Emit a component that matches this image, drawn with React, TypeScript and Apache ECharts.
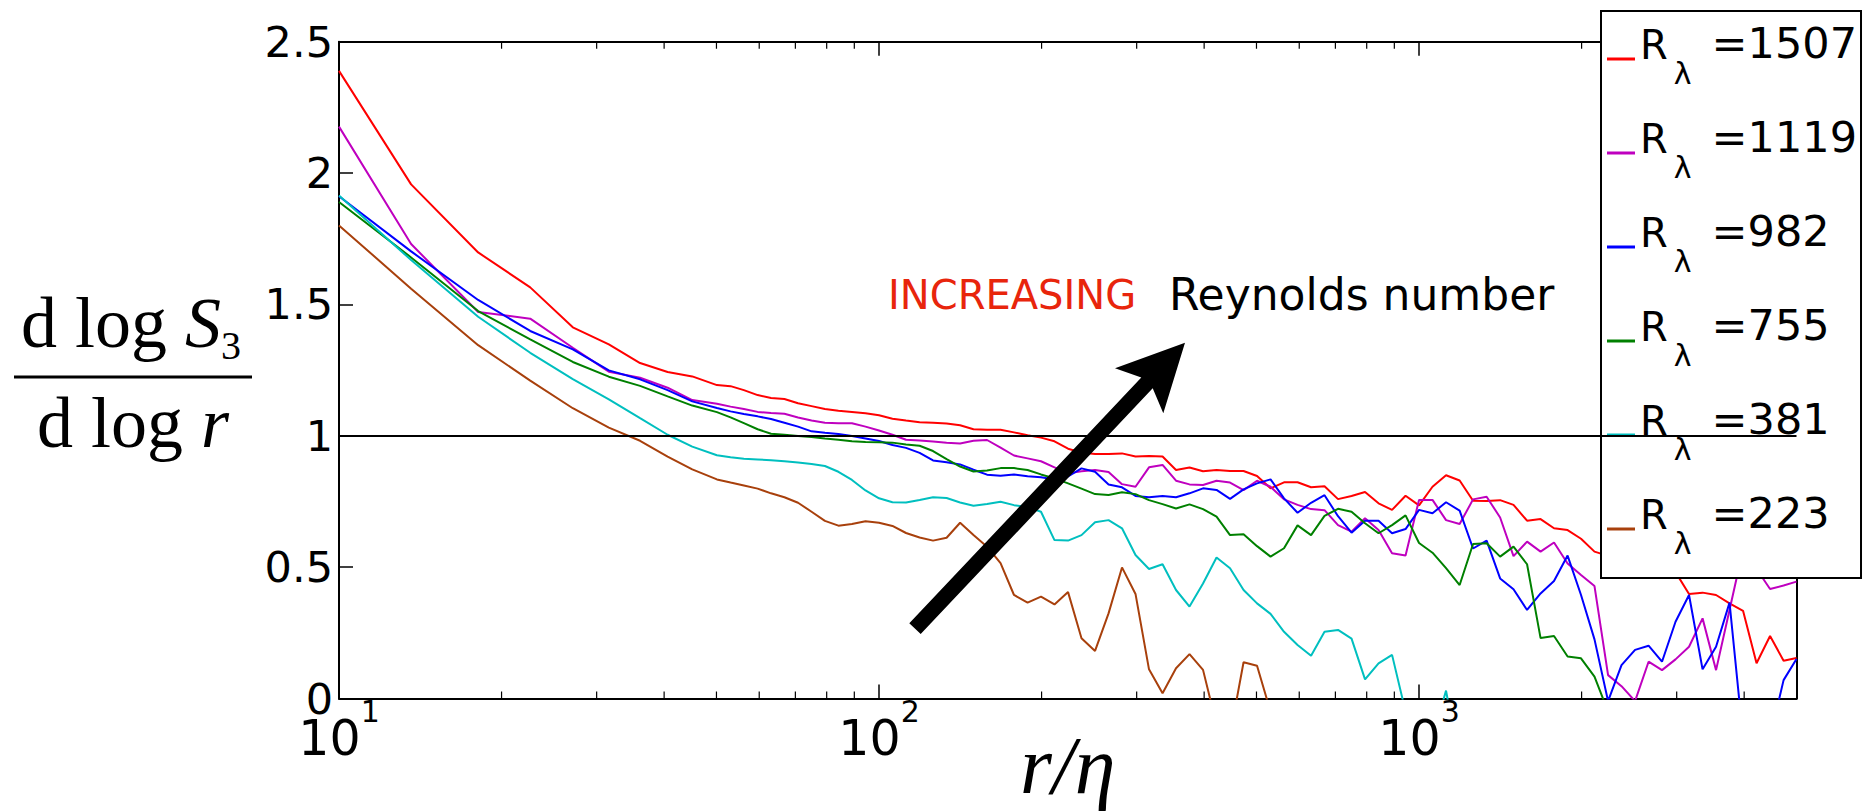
import React, { useEffect, useRef } from "react";
import * as echarts from "echarts";

// r / eta sample positions shared by all curves
const rOverEta = [
  10, 13.6, 18.1, 22.6, 27.1, 31.6, 36.1, 40.6, 45.1, 50.1, 53.1, 56.2, 59.6, 63.1, 66.8, 70.8, 75.0, 79.4, 84.1, 89.1,
  94.4, 100, 105.9, 112.2, 118.9, 125.9, 133.4, 141.3, 149.6, 158.5, 167.9, 177.8, 188.4, 199.5, 211.3, 223.9, 237.1,
  251.2, 266.1, 281.8, 298.5, 316.2, 335.0, 354.8, 375.8, 398.1, 421.7, 446.7, 473.2, 501.2, 530.9, 562.3, 595.7, 631.0,
  668.3, 707.9, 749.9, 794.3, 841.4, 891.3, 944.1, 1000, 1059, 1122, 1189, 1259, 1334, 1413, 1496, 1585, 1679, 1778,
  1884, 1995, 2113, 2239, 2371, 2512, 2661, 2818, 2985, 3162, 3350, 3548, 3758, 3981, 4217, 4467, 4732, 5000,
];

const re1507 = [
  2.389, 1.957, 1.698, 1.565, 1.413, 1.348, 1.277, 1.243, 1.226, 1.193,
  1.189, 1.174, 1.155, 1.144, 1.14, 1.124, 1.113, 1.102, 1.095, 1.091,
  1.086, 1.078, 1.065, 1.058, 1.052, 1.05, 1.047, 1.04, 1.025, 1.023,
  1.023, 1.013, 1.002, 0.993, 0.979, 0.951, 0.936, 0.931, 0.931, 0.933,
  0.921, 0.923, 0.921, 0.87, 0.879, 0.865, 0.87, 0.866, 0.866, 0.847,
  0.8, 0.823, 0.823, 0.804, 0.808, 0.759, 0.771, 0.786, 0.743, 0.718,
  0.772, 0.735, 0.806, 0.85, 0.83, 0.753, 0.752, 0.755, 0.737, 0.677,
  0.683, 0.648, 0.641, 0.608, 0.559, 0.543, 0.533, 0.487, 0.552, 0.6,
  0.481, 0.398, 0.403, 0.394, 0.362, 0.334, 0.134, 0.238, 0.144, 0.154,
];

const re1119 = [
  2.177, 1.73, 1.471, 1.446, 1.335, 1.244, 1.221, 1.183, 1.136, 1.122,
  1.111, 1.102, 1.091, 1.087, 1.084, 1.07, 1.058, 1.05, 1.048, 1.048,
  1.035, 1.02, 1.004, 0.985, 0.982, 0.978, 0.974, 0.971, 0.981, 0.984,
  0.955, 0.925, 0.914, 0.903, 0.88, 0.857, 0.865, 0.87, 0.862, 0.816,
  0.806, 0.88, 0.889, 0.829, 0.815, 0.813, 0.829, 0.822, 0.793, 0.829,
  0.806, 0.758, 0.737, 0.721, 0.717, 0.66, 0.635, 0.686, 0.641, 0.553,
  0.544, 0.756, 0.756, 0.679, 0.664, 0.758, 0.768, 0.689, 0.542, 0.597,
  0.559, 0.594, 0.514, 0.47, 0.428, 0.089, 0.047, -0.01, 0.14, 0.108,
  0.149, 0.197, 0.305, 0.108, 0.337, 0.568, 0.493, 0.417, 0.43, 0.445,
];

const re982 = [
  1.912, 1.702, 1.517, 1.399, 1.329, 1.249, 1.215, 1.174, 1.131, 1.106,
  1.093, 1.083, 1.074, 1.064, 1.05, 1.035, 1.017, 1.012, 1.007, 0.999,
  0.99, 0.98, 0.965, 0.954, 0.935, 0.906, 0.899, 0.891, 0.871, 0.852,
  0.848, 0.853, 0.846, 0.842, 0.834, 0.845, 0.876, 0.863, 0.815, 0.804,
  0.771, 0.766, 0.771, 0.766, 0.781, 0.8, 0.794, 0.76, 0.796, 0.819,
  0.834, 0.762, 0.707, 0.745, 0.774, 0.694, 0.631, 0.677, 0.677, 0.629,
  0.645, 0.718, 0.705, 0.747, 0.715, 0.571, 0.601, 0.457, 0.416, 0.337,
  0.4, 0.447, 0.544, 0.394, 0.225, -0.01, 0.127, 0.185, 0.201, 0.14,
  0.292, 0.394, 0.111, 0.197, 0.365, -0.15, -0.3, -0.15, 0.07, 0.15,
];

const re755 = [
  1.89, 1.679, 1.475, 1.367, 1.281, 1.225, 1.19, 1.15, 1.115, 1.09,
  1.07, 1.048, 1.025, 1.008, 1.004, 0.999, 0.995, 0.99, 0.985, 0.979,
  0.976, 0.975, 0.974, 0.967, 0.962, 0.942, 0.911, 0.883, 0.864, 0.868,
  0.877, 0.877, 0.87, 0.853, 0.838, 0.819, 0.799, 0.778, 0.775, 0.785,
  0.778, 0.755, 0.74, 0.723, 0.739, 0.721, 0.692, 0.622, 0.625, 0.58,
  0.54, 0.572, 0.659, 0.622, 0.695, 0.722, 0.711, 0.667, 0.629, 0.66,
  0.697, 0.592, 0.555, 0.496, 0.432, 0.588, 0.591, 0.54, 0.578, 0.511,
  0.23, 0.238, 0.16, 0.153, 0.083, -0.05, -0.3,
];

const re381 = [
  1.915, 1.669, 1.453, 1.316, 1.216, 1.139, 1.067, 1.004, 0.959, 0.926,
  0.918, 0.913, 0.91, 0.907, 0.903, 0.898, 0.893, 0.885, 0.863, 0.832,
  0.792, 0.762, 0.747, 0.746, 0.756, 0.766, 0.763, 0.746, 0.734, 0.74,
  0.749, 0.736, 0.729, 0.711, 0.603, 0.601, 0.622, 0.671, 0.679, 0.648,
  0.546, 0.493, 0.511, 0.413, 0.35, 0.438, 0.537, 0.496, 0.413, 0.362,
  0.322, 0.254, 0.204, 0.163, 0.254, 0.261, 0.228, 0.073, 0.134, 0.166,
  -0.05, -0.25, -0.15, 0.03, -0.25,
];

const re223 = [
  1.801, 1.56, 1.345, 1.21, 1.105, 1.031, 0.981, 0.921, 0.872, 0.834,
  0.822, 0.811, 0.799, 0.781, 0.766, 0.745, 0.711, 0.676, 0.658, 0.664,
  0.675, 0.669, 0.657, 0.63, 0.613, 0.601, 0.612, 0.669, 0.622, 0.578,
  0.515, 0.394, 0.365, 0.388, 0.358, 0.405, 0.229, 0.181, 0.324, 0.499,
  0.398, 0.111, 0.02, 0.115, 0.169, 0.109, -0.1, -0.14, 0.138, 0.125,
  -0.05, -0.3,
];

const reynolds = [1507, 1119, 982, 755, 381, 223];
const seriesValues = [re1507, re1119, re982, re755, re381, re223];
const colors = ["#ff0000", "#bf00bf", "#0000ff", "#008000", "#00bfbf", "#a8400c"];
const minorTicks = [20, 30, 40, 50, 60, 70, 80, 90, 200, 300, 400, 500, 600, 700, 800, 900, 2000, 3000, 4000];
const yMin = 0;
const yMax = 2.5;
const yStep = 0.5;
const xMin = 10;
const xMax = 5000;
const referenceLevel = 1;

const SANS = "DejaVu Sans";
const SERIF = "Liberation Serif";

function buildOption() {
  const names = reynolds.map((r) => `Rλ=${r}`);

  const lineSeries = seriesValues.map((vals, si) => ({
    name: names[si],
    type: "line",
    data: vals.map((v, i) => [rOverEta[i], v]),
    showSymbol: false,
    symbol: "none",
    color: colors[si],
    lineStyle: { color: colors[si], width: 2 },
    emphasis: { disabled: true },
    z: 2,
    ...(si === 0
      ? {
          markLine: {
            silent: true,
            symbol: "none",
            label: { show: false },
            lineStyle: { color: "#000", width: 2, type: "solid" },
            emphasis: { disabled: true },
            data: [{ yAxis: referenceLevel }],
          },
        }
      : {}),
  }));

  const minorTickSeries = {
    type: "custom",
    silent: true,
    clip: false,
    z: 3,
    data: minorTicks.map((t) => [t, yMin]),
    renderItem: (_params: any, api: any) => {
      const x = api.value(0);
      const b = api.coord([x, yMin]);
      const t = api.coord([x, yMax]);
      const st = { stroke: "#000", lineWidth: 1.2 };
      return {
        type: "group",
        children: [
          { type: "line", shape: { x1: b[0], y1: b[1], x2: b[0], y2: b[1] - 7 }, style: st },
          { type: "line", shape: { x1: t[0], y1: t[1], x2: t[0], y2: t[1] + 7 }, style: st },
        ],
      };
    },
  };

  const axisLine = { show: true, onZero: false, lineStyle: { color: "#000", width: 2 } };
  const axisTick = { show: true, inside: true, length: 14, lineStyle: { color: "#000", width: 1.5 } };

  const isPow10 = (v: number) => Math.abs(Math.log10(v) - Math.round(Math.log10(v))) < 1e-6;

  return {
    animation: false,
    backgroundColor: "#fff",
    grid: { left: 339, right: 70.5, top: 41.75, bottom: 112.5, containLabel: false, outerBoundsMode: "none" },
    xAxis: [
      {
        type: "log",
        logBase: 10,
        min: xMin,
        max: xMax,
        position: "bottom",
        axisLine,
        axisTick,
        splitLine: { show: false },
        minorTick: { show: false },
        name: "r/η",
        nameLocation: "middle",
        nameGap: 26,
        nameMoveOverlap: false,
        nameTextStyle: { fontSize: 82, fontFamily: SERIF, fontStyle: "italic", color: "#000" },
        axisLabel: {
          show: true,
          margin: -6,
          showMinLabel: true,
          showMaxLabel: false,
          formatter: (v: number) => (isPow10(v) ? `{b|10}{s|${Math.round(Math.log10(v))}}` : ""),
          rich: {
            b: { fontSize: 49, fontFamily: SANS, color: "#000", lineHeight: 91 },
            s: { fontSize: 30, fontFamily: SANS, color: "#000", lineHeight: 30, padding: [4, 0, 57, 0] },
          },
        },
      },
      {
        type: "log",
        logBase: 10,
        min: xMin,
        max: xMax,
        position: "top",
        axisLine,
        axisTick,
        axisLabel: { show: false },
        splitLine: { show: false },
      },
    ],
    yAxis: [
      {
        type: "value",
        min: yMin,
        max: yMax,
        interval: yStep,
        position: "left",
        axisLine,
        axisTick,
        splitLine: { show: false },
        axisLabel: { show: true, margin: 6, fontSize: 43, fontFamily: SANS, color: "#000" },
      },
      {
        type: "value",
        min: yMin,
        max: yMax,
        interval: yStep,
        position: "right",
        axisLine,
        axisTick,
        splitLine: { show: false },
        axisLabel: { show: false },
      },
    ],
    legend: {
      orient: "vertical",
      left: 1601,
      top: 11,
      padding: [10, 4, 11, 6],
      itemGap: 18,
      itemWidth: 28,
      itemHeight: 3,
      icon: "rect",
      backgroundColor: "#fff",
      borderColor: "#000",
      borderWidth: 2,
      borderRadius: 0,
      selectedMode: false,
      data: names,
      formatter: (name: string) => `{r|R}{l|λ}{v|=${name.split("=")[1]}}`,
      textStyle: {
        color: "#000",
        fontFamily: SANS,
        rich: {
          r: { fontSize: 40, fontFamily: SANS, color: "#000", lineHeight: 35, padding: [0, 0, 29, 0] },
          l: { fontSize: 30, fontFamily: SANS, color: "#000", lineHeight: 35, padding: [29, 0, 0, 6] },
          v: { fontSize: 43, fontFamily: SANS, color: "#000", lineHeight: 31, padding: [0, 0, 33, 20] },
        },
      },
    },
    graphic: [
      {
        type: "text",
        x: 131,
        y: 322.7,
        z: 100,
        style: {
          text: "{u|d log }{i|S}{s|3}",
          align: "center",
          verticalAlign: "middle",
          fill: "#000",
          rich: {
            u: { fontSize: 72, fontFamily: SERIF, lineHeight: 86, fill: "#000" },
            i: { fontSize: 72, fontFamily: SERIF, fontStyle: "italic", lineHeight: 86, fill: "#000" },
            s: { fontSize: 40, fontFamily: SERIF, lineHeight: 40, padding: [46, 0, 0, 0], fill: "#000" },
          },
        },
      },
      {
        type: "rect",
        z: 100,
        shape: { x: 14, y: 375.5, width: 238, height: 3 },
        style: { fill: "#000" },
      },
      {
        type: "text",
        x: 133,
        y: 422.7,
        z: 100,
        style: {
          text: "{u|d log }{i|r}",
          align: "center",
          verticalAlign: "middle",
          fill: "#000",
          rich: {
            u: { fontSize: 72, fontFamily: SERIF, lineHeight: 86, fill: "#000" },
            i: { fontSize: 72, fontFamily: SERIF, fontStyle: "italic", lineHeight: 86, fill: "#000" },
          },
        },
      },
      {
        type: "text",
        x: 888,
        y: 294.5,
        z: 100,
        style: { text: "INCREASING", fontSize: 40, fontFamily: SANS, fill: "#e8250c", align: "left", verticalAlign: "middle" },
      },
      {
        type: "text",
        x: 1169,
        y: 294.5,
        z: 100,
        style: { text: "Reynolds number", fontSize: 44, fontFamily: SANS, fill: "#000", align: "left", verticalAlign: "middle" },
      },
      {
        type: "polygon",
        z: 100,
        shape: {
          points: [
            [909.3, 623.3],
            [1141.3, 377.5],
            [1115, 368.3],
            [1185, 342.7],
            [1163.3, 413.3],
            [1152.7, 388.3],
            [920.7, 634.1],
          ],
        },
        style: { fill: "#000" },
      },
    ],
    series: [...lineSeries, minorTickSeries],
  };
}

export default function App() {
  const ref = useRef<HTMLDivElement>(null);
  useEffect(() => {
    if (!ref.current) return;
    const chart = echarts.init(ref.current, null, { renderer: "svg" });
    chart.setOption(buildOption() as any);
    return () => chart.dispose();
  }, []);
  return (
    <div
      ref={ref}
      style={{ position: "fixed", left: 0, top: 0, width: 1867, height: 811, background: "#fff" }}
    />
  );
}
